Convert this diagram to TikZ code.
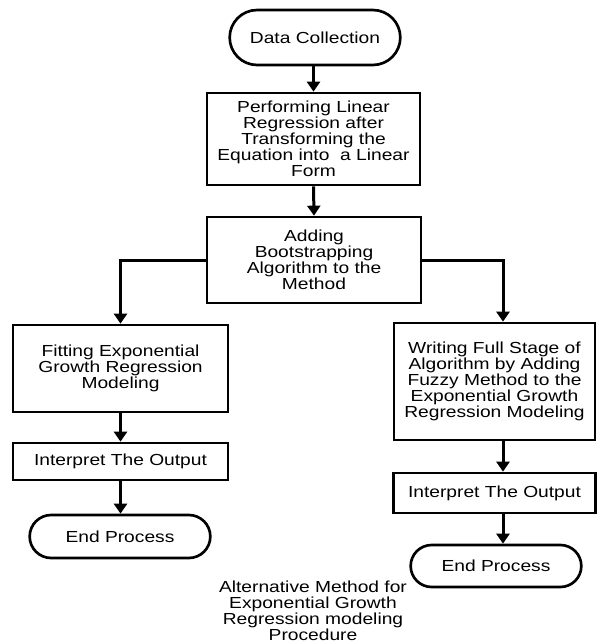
\documentclass[tikz,border=0pt]{standalone}
\usepackage{fontspec}
\setmainfont{Liberation Sans}[FakeStretch=1.2]
\usetikzlibrary{arrows.meta,shapes.misc}

\begin{document}
\begin{tikzpicture}[
			x=0.75pt, y=-0.75pt,
			>={Triangle[width=9.75pt,length=7.5pt]},
			every node/.style={font=\fontsize{12}{12}\selectfont, align=center, inner sep=2pt},
			box/.style={draw, line width=2pt},
			term/.style={draw, line width=2pt, rounded rectangle},
			arr/.style={->, line width=2.25pt}
		]
			\useasboundingbox (0,0) rectangle (597,644);
			
			\node[term, minimum width=132pt, minimum height=41.25pt] (start) at (315,37.5) {Data Collection};
			\node[box, minimum width=159.75pt, minimum height=69pt] (lin) at (313.5,139)
				{Performing Linear\\Regression after\\Transforming the\\Equation into\ \ a Linear\\Form};
			\node[box, minimum width=160.5pt, minimum height=64.5pt] (boot) at (314,260)
				{Adding\\Bootstrapping\\Algorithm to the\\Method};
			
			% left branch
			\node[box, minimum width=161.25pt, minimum height=65.25pt] (fit) at (120.5,368.5)
				{Fitting Exponential\\Growth Regression\\Modeling};
			\node[box, minimum width=161.25pt, minimum height=27.75pt] (outl) at (120.5,461.5) {Interpret The Output};
			\node[term, minimum width=139.5pt, minimum height=32.25pt] (endl) at (120,536.5) {End Process};
			
			% right branch
			\coordinate (rc) at (503,0);
			\node[box, minimum width=150.75pt, minimum height=87.75pt] (fuzzy) at (494.5,381.5)
				{Writing Full Stage of\\Algorithm by Adding\\Fuzzy Method to the\\Exponential Growth\\Regression Modeling};
			\node[box, minimum width=151.5pt, minimum height=30pt] (outr) at (494.5,493) {Interpret The Output};
			\node[term, minimum width=132pt, minimum height=31.5pt] (endr) at (496,566) {End Process};
			
			\node (cap) at (313,610.5) {Alternative Method for\\Exponential Growth\\Regression modeling\\Procedure};
			
			\draw[arr] (start.south -| lin.north) -- (lin.north);
			\draw[arr] (lin.south) -- (boot.north);
			\draw[arr] (boot.west) -| (fit.north);
			\draw[arr] (boot.east) -| (fuzzy.north -| rc);
			\draw[arr] (fit.south) -- (outl.north);
			\draw[arr] (outl.south) -- (endl.north -| outl.south);
			\draw[arr] (fuzzy.south -| rc) -- (outr.north -| rc);
			\draw[arr] (outr.south -| rc) -- (endr.north -| rc);
		\end{tikzpicture}
\end{document}
